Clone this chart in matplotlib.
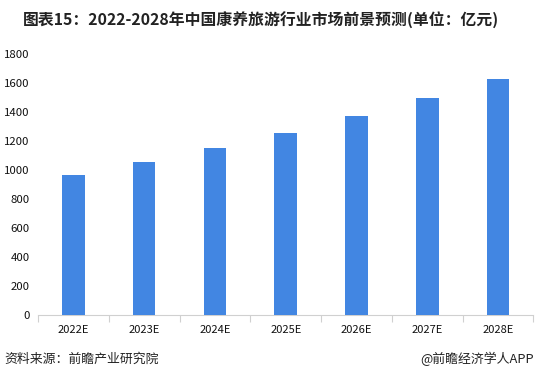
import matplotlib
matplotlib.use("Agg")
import matplotlib.pyplot as plt
import numpy as np

plt.rcParams['font.family'] = ['Noto Sans CJK SC', 'DejaVu Sans']

categories = ["2022E", "2023E", "2024E", "2025E", "2026E", "2027E", "2028E"]
values = [965, 1055, 1152, 1257, 1372, 1497, 1628]
yticks = [0, 200, 400, 600, 800, 1000, 1200, 1400, 1600, 1800]
title = "图表15：2022-2028年中国康养旅游行业市场前景预测(单位：亿元)"
source = "资料来源：前瞻产业研究院"
brand = "@前瞻经济学人APP"

fig = plt.figure(figsize=(5.38, 3.79), dpi=100)
ax = fig.add_axes([0.0706, 0.1689, 0.921, 0.6886])

x = np.arange(len(categories))
ax.bar(x, values, width=0.32, color="#4286E2", zorder=3)
ax.set_xlim(-0.5, len(categories) - 0.5)
ax.set_ylim(0, 1800)
ax.set_yticks(yticks)
ax.set_yticklabels([str(v) for v in yticks], fontsize=8.2, color="#111111")
ax.set_xticks(x)
ax.set_xticklabels(categories, fontsize=8, color="#111111")
ax.tick_params(axis='x', length=0, pad=7)
ax.tick_params(axis='y', length=0, pad=6)
# category boundary ticks
ax.set_xticks(np.arange(-0.5, len(categories), 1.0), minor=True)
ax.tick_params(axis='x', which='minor', length=5, color="#d0d0d0", width=0.8)

for s in ["top", "right", "left"]:
    ax.spines[s].set_visible(False)
ax.spines["bottom"].set_color("#d0d0d0")
ax.spines["bottom"].set_linewidth(0.8)

fig.text(0.486, 0.945, title, ha="center", va="center", fontsize=11.4,
         fontweight="bold", color="#222222")
fig.text(0.008, 0.053, source, ha="left", va="center", fontsize=9.3, color="#222222")
fig.text(0.992, 0.053, brand, ha="right", va="center", fontsize=9.3, color="#222222")

fig.savefig("out.png", dpi=100)
